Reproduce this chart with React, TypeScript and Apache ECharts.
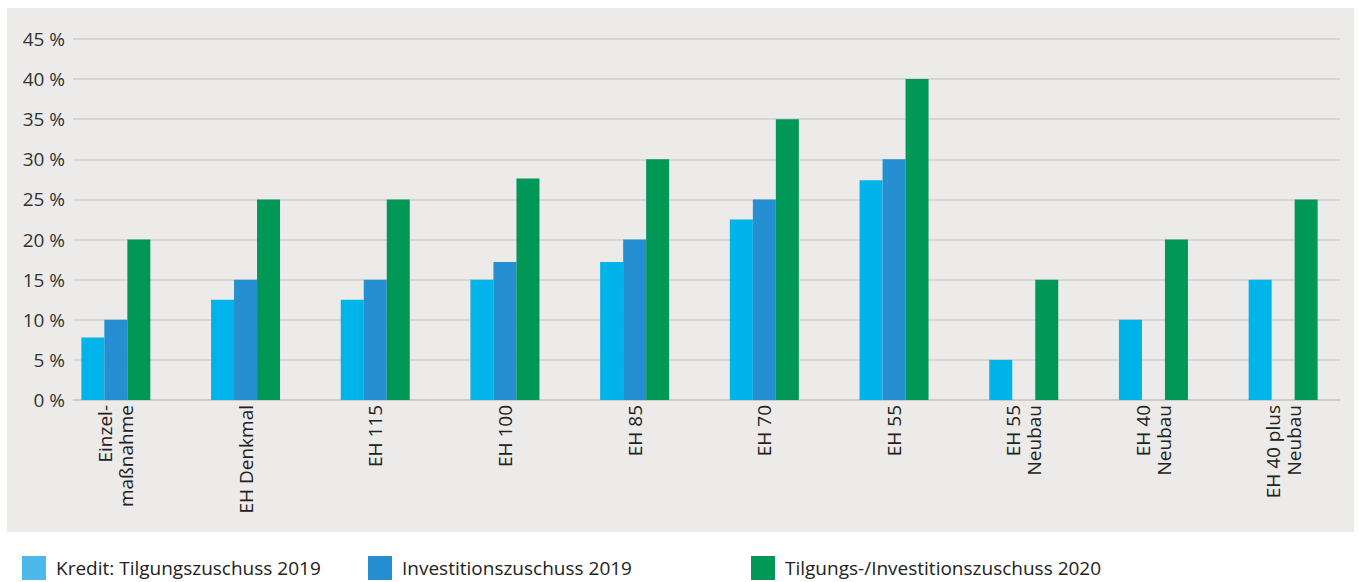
import React, { useEffect, useRef } from "react";
import * as echarts from "echarts";

const categories = [
  "Einzel-\nmaßnahme",
  "EH Denkmal",
  "EH 115",
  "EH 100",
  "EH 85",
  "EH 70",
  "EH 55",
  "EH 55\nNeubau",
  "EH 40\nNeubau",
  "EH 40 plus\nNeubau",
];
const kredit2019 = [7.8, 12.5, 12.5, 15, 17.2, 22.5, 27.4, 5, 10, 15];
const invest2019 = [10, 15, 15, 17.2, 20, 25, 30, null, null, null];
const tilgung2020 = [20, 25, 25, 27.6, 30, 35, 40, 15, 20, 25];
const yTicks = [0, 5, 10, 15, 20, 25, 30, 35, 40, 45];
const seriesNames = [
  "Kredit: Tilgungszuschuss 2019",
  "Investitionszuschuss 2019",
  "Tilgungs-/Investitionszuschuss 2020",
];

const FONT = "'Open Sans', 'Noto Sans', sans-serif";

export default function App() {
  const ref = useRef<HTMLDivElement>(null);
  useEffect(() => {
    if (!ref.current) return;
    const chart = echarts.init(ref.current, null, { renderer: "svg" });
    const yMax = yTicks[yTicks.length - 1];
    const legendBase = {
      orient: "horizontal",
      top: 556,
      padding: 0,
      itemWidth: 24,
      itemHeight: 24,
      icon: "rect",
      selectedMode: false,
      textStyle: {
        fontFamily: FONT,
        fontSize: 19,
        lineHeight: 20,
        color: "#222",
        padding: [0, 0, 0, 5],
      },
    };
    chart.setOption({
      animation: false,
      backgroundColor: "#ffffff",
      graphic: [
        {
          type: "rect",
          shape: { x: 7, y: 8, width: 1347, height: 524 },
          style: { fill: "#ecebe9" },
          z: -10,
          silent: true,
        },
      ],
      legend: [
        { ...legendBase, left: 22, data: [{ name: seriesNames[0], itemStyle: { color: "#4db9ea" } }] },
        { ...legendBase, left: 368, data: [{ name: seriesNames[1] }] },
        { ...legendBase, left: 751, data: [{ name: seriesNames[2] }] },
      ],
      grid: [
        { left: 73, right: 19, top: 39, height: 361 },
        { left: 51, width: 1297, top: 39, height: 361 },
      ],
      xAxis: [
        {
          gridIndex: 0,
          type: "category",
          data: [""],
          axisLine: { show: true, lineStyle: { color: "#c8c8c8", width: 1.5 } },
          axisTick: { show: false },
          axisLabel: { show: false },
          splitLine: { show: false },
        },
        {
          gridIndex: 1,
          type: "category",
          data: categories,
          axisLine: { show: false },
          axisTick: { show: false },
          axisLabel: {
            rotate: 90,
            margin: 5,
            interval: 0,
            fontFamily: FONT,
            fontSize: 19,
            lineHeight: 21,
            color: "#222",
          },
        },
      ],
      yAxis: [
        {
          gridIndex: 0,
          type: "value",
          min: 0,
          max: yMax,
          interval: 5,
          axisLine: { show: false },
          axisTick: { show: false },
          axisLabel: {
            formatter: (v: number) => `${v} %`,
            margin: 8,
            fontFamily: FONT,
            fontSize: 19,
            color: "#333",
          },
          splitLine: { lineStyle: { color: "#cfcfcf", width: 1.5 } },
        },
        {
          gridIndex: 1,
          type: "value",
          min: 0,
          max: yMax,
          interval: 5,
          show: false,
        },
      ],
      series: [
        {
          name: seriesNames[0],
          type: "bar",
          xAxisIndex: 1,
          yAxisIndex: 1,
          data: kredit2019,
          barWidth: 23,
          barGap: "0%",
          itemStyle: { color: "#00b4ea" },
        },
        {
          name: seriesNames[1],
          type: "bar",
          xAxisIndex: 1,
          yAxisIndex: 1,
          data: invest2019,
          barWidth: 23,
          barGap: "0%",
          itemStyle: { color: "#268fd1" },
        },
        {
          name: seriesNames[2],
          type: "bar",
          xAxisIndex: 1,
          yAxisIndex: 1,
          data: tilgung2020,
          barWidth: 23,
          barGap: "0%",
          itemStyle: { color: "#009757" },
        },
      ],
    });
    return () => chart.dispose();
  }, []);
  return (
    <div
      ref={ref}
      style={{ position: "fixed", left: 0, top: 0, width: 1359, height: 582 }}
    />
  );
}
